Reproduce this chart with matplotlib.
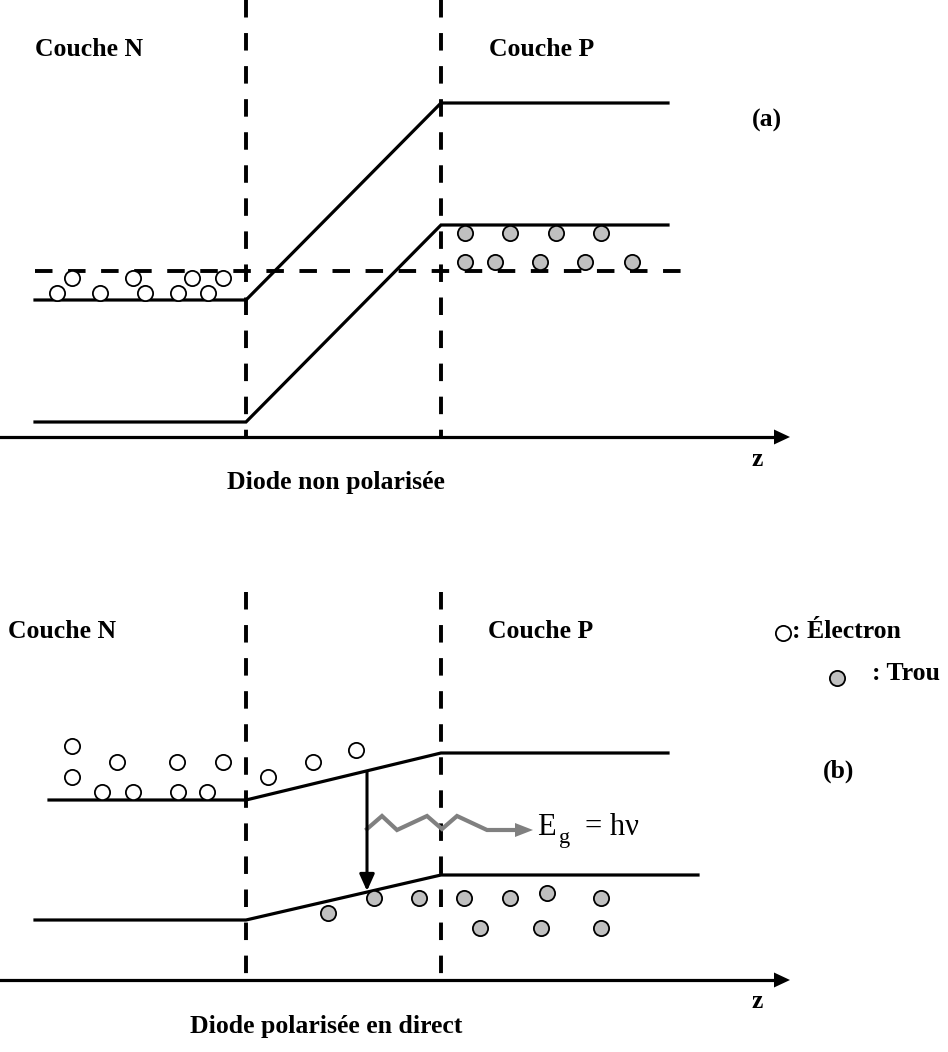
import numpy as np
import matplotlib.pyplot as plt
from matplotlib.patches import FancyArrow

W, H = 948, 1052
SERIF = ['Liberation Serif', 'DejaVu Serif']

# ---- diagram data (pixel coordinates of the reference) ----
# panel (a): diode non polarisée
a_cond_x = [35, 246, 441, 668]
a_cond_y = [300, 300, 103, 103]
a_val_x = [35, 246, 441, 668]
a_val_y = [422, 422, 225, 225]
a_fermi_x = [35, 683]
a_fermi_y = [271, 271]
a_elec_x = [72, 57, 100, 133, 145, 178, 192, 208, 223]
a_elec_y = [278, 293, 293, 278, 293, 293, 278, 293, 278]
a_hole_x = [465, 510, 556, 601, 465, 495, 540, 585, 632]
a_hole_y = [233, 233, 233, 233, 262, 262, 262, 262, 262]

# panel (b): diode polarisée en direct
b_cond_x = [49, 246, 441, 668]
b_cond_y = [800, 800, 753, 753]
b_val_x = [35, 246, 441, 698]
b_val_y = [920, 920, 875, 875]
b_elec_x = [72, 117, 177, 223, 72, 102, 133, 178, 207, 268, 313, 356]
b_elec_y = [746, 762, 762, 762, 777, 792, 792, 792, 792, 777, 762, 750]
b_hole_x = [328, 374, 419, 464, 510, 547, 601, 480, 541, 601]
b_hole_y = [913, 898, 898, 898, 898, 893, 898, 928, 928, 928]
photon_x = [367, 382, 397, 427, 442, 457, 487, 517]
photon_y = [829, 816, 830, 816, 829, 816, 830, 830]

fig = plt.figure(figsize=(W / 100, H / 100), dpi=100)
ax = fig.add_axes([0, 0, 1, 1])
ax.set_xlim(0, W)
ax.set_ylim(H, 0)
ax.axis('off')

LW = 2.3
dash = (4.5, 4.0)

def vdash(x, y0, y1):
    ax.plot([x, x], [y0, y1], color='black', lw=LW + 0.5, dashes=dash, solid_capstyle='butt')

def zaxis(y):
    ax.plot([0, 775], [y, y], color='black', lw=LW)
    ax.add_patch(FancyArrow(774, y, 16, 0, width=0.1, head_width=15, head_length=16,
                            length_includes_head=True, color='black', lw=0))

def carriers(xs, ys, filled):
    ax.scatter(xs, ys, s=120, facecolor='#c0c0c0' if filled else 'white',
               edgecolor='black', linewidths=1.3, zorder=5)

def label(x, y, s, **kw):
    ax.text(x, y, s, family=SERIF, fontweight='bold', fontsize=18.5, va='center', **kw)

# ---- panel (a) ----
vdash(246, 0, 437)
vdash(441, 0, 437)
zaxis(437)
ax.plot(a_cond_x, a_cond_y, color='black', lw=LW, solid_joinstyle='miter')
ax.plot(a_val_x, a_val_y, color='black', lw=LW, solid_joinstyle='miter')
ax.plot(a_fermi_x, a_fermi_y, color='black', lw=LW + 0.5, dashes=dash)
carriers(a_elec_x, a_elec_y, False)
carriers(a_hole_x, a_hole_y, True)
label(35, 49, 'Couche N')
label(489, 49, 'Couche P')
label(752, 120, '(a)')
label(336, 482, 'Diode non polarisée', ha='center')
label(757, 459, 'z', ha='center')

# ---- panel (b) ----
vdash(246, 592, 980)
vdash(441, 592, 980)
zaxis(980)
ax.plot(b_cond_x, b_cond_y, color='black', lw=LW, solid_joinstyle='miter')
ax.plot(b_val_x, b_val_y, color='black', lw=LW, solid_joinstyle='miter')
carriers(b_elec_x, b_elec_y, False)
carriers(b_hole_x, b_hole_y, True)

# recombination arrow and emitted photon
ax.annotate('', xy=(367, 891), xytext=(367, 772),
            arrowprops=dict(arrowstyle='-|>,head_length=1.0,head_width=0.45', color='black', lw=2.2,
                            shrinkA=0, shrinkB=0))
ax.plot(photon_x, photon_y, color='#808080', lw=3, solid_joinstyle='miter')
ax.add_patch(FancyArrow(515, 830, 18, 0, width=0.1, head_width=14, head_length=18,
                        length_includes_head=True, color='#808080', lw=0))
ax.text(537, 835, 'E', family=SERIF, fontsize=22, va='baseline')
ax.text(559, 843, 'g', family=SERIF, fontsize=16, va='baseline')
ax.text(585, 835, '= h\u03bd', family=SERIF, fontsize=22, va='baseline')

label(8, 632, 'Couche N')
label(488, 632, 'Couche P')
label(326, 1027, 'Diode polarisée en direct', ha='center')
label(757, 1002, 'z', ha='center')
label(823, 771, '(b)')

# legend
carriers([783], [633], False)
label(792, 632, ': Électron')
carriers([837], [678], True)
label(872, 674, ': Trou')

fig.savefig('out.png', dpi=100)
